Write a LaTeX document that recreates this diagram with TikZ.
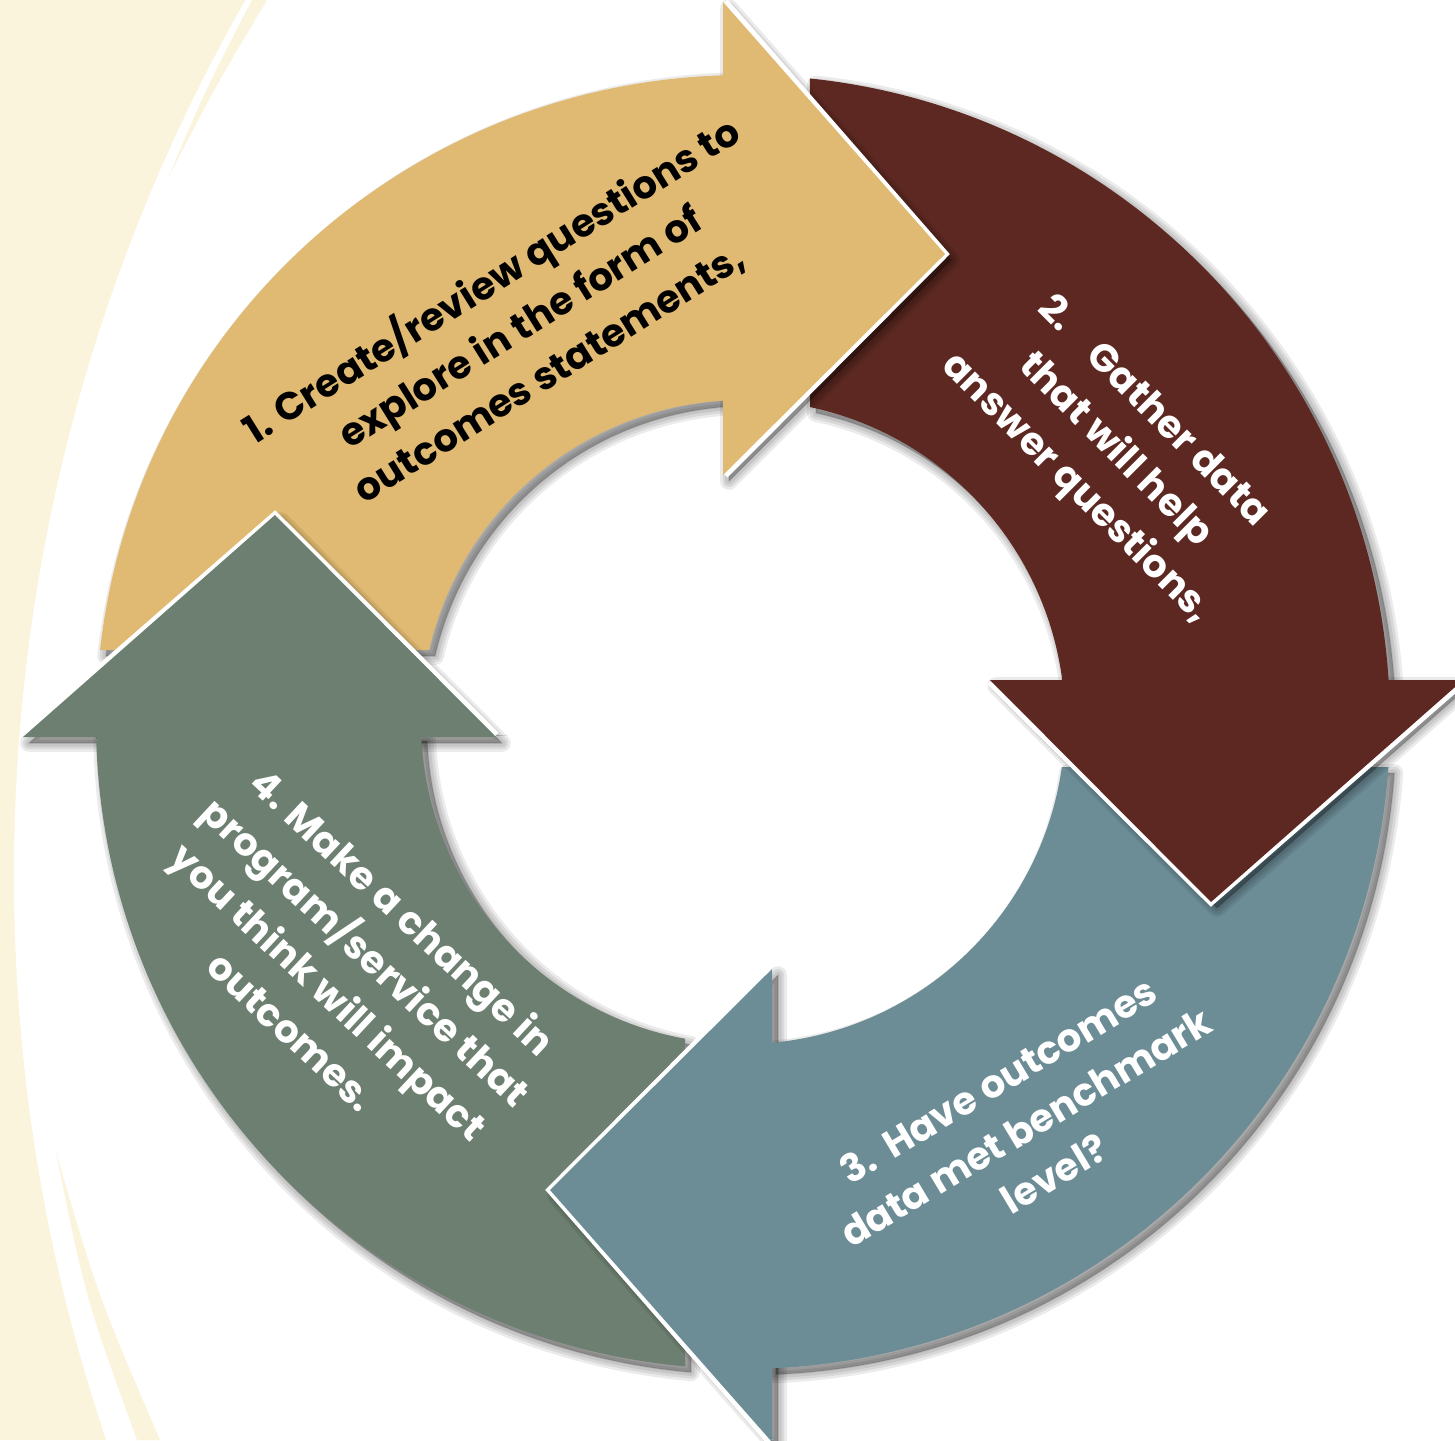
\documentclass[tikz,border=0pt]{standalone}
\usepackage{fontspec}
\setmainfont{Poppins}
\usetikzlibrary{calc}

\definecolor{cream}{RGB}{250,244,220}
\definecolor{cyellow}{RGB}{224,186,114}
\definecolor{cbrown}{RGB}{92,40,33}
\definecolor{cblue}{RGB}{108,140,150}
\definecolor{cgreen}{RGB}{108,127,112}

% ring piece of one arrow, drawn for the arrow at the top
% #1 = back offset of the head base, #2 = height of the tail line
\newcommand{\bodypath}[2]{({180-asin(#2/6.47)}:6.47)
  arc[start angle={180-asin(#2/6.47)}, end angle={90+asin(#1/6.47)}, radius=6.47]
  -- ({90+asin(#1/3.22)}:3.22)
  arc[start angle={90+asin(#1/3.22)}, end angle={180-asin(#2/3.22)}, radius=3.22] -- cycle}
\newcommand{\headpath}[1]{({-#1-0.02},7.2) -- ({2.2-#1},4.68) -- ({-#1-0.02},2.47) -- cycle}

\begin{document}
\begin{tikzpicture}[
		shade/.style={black, opacity=0.08, line join=round},
		local/.style={shift={(c)}, rotate=#1},
		shadowed/.style={reset cm, shift={(c)}, xshift=0.6mm, yshift=-0.6mm, rotate=#1},
		lbl/.style={align=center, inner sep=0pt, text=white,
			font=\bfseries\fontsize{11}{15.5}\selectfont}]

	\useasboundingbox (0,0) rectangle (14.55,-14.40);

	% background
	\fill[cream] (0,0) rectangle (14.55,-14.40);
	\begin{scope}
		\clip (0,0) rectangle (14.55,-14.40);
		\fill[white] (17.81,-8.75) circle (17.67);
		\fill[cream] (1.68,-1.78) .. controls (2.06,-0.89) .. (2.52,0)
			-- (2.67,0) .. controls (2.14,-0.89) .. (1.68,-1.78);
		\fill[cream] (0.56,-11.52) .. controls (0.85,-12.96) .. (1.37,-14.40)
			-- (1.60,-14.40) .. controls (0.98,-12.96) .. (0.56,-11.52);
	\end{scope}

	\coordinate (c) at (7.43,-7.22);

	% ring pieces
	\foreach \rot/\boff/\toff/\col in {0/0.18/0.72/cyellow, -90/0.40/0.67/cbrown,
			-180/0.27/0.45/cblue, -270/0.13/0.58/cgreen}{
		\foreach \w in {5,3.5,2,0.5}
			\filldraw[shade, line width=\w pt, shadowed=\rot] \bodypath{\boff}{\toff};
		\fill[\col, local=\rot] \bodypath{\boff}{\toff};
	}

	% arrow heads on top of the next tail
	\foreach \rot/\boff/\col in {0/0.18/cyellow, -90/0.40/cbrown,
			-180/0.27/cblue, -270/0.13/cgreen}{
		\begin{scope}[local=\rot]
			\clip (-\boff,-1) rectangle (9,9);
			\foreach \w in {5,3.5,2,0.5}
				\filldraw[shade, line width=\w pt, shadowed=\rot] \headpath{\boff};
		\end{scope}
		\begin{scope}[local=\rot]
			\clip (-3,-1) rectangle (-\boff,9);
			\begin{scope}[even odd rule]
				\clip (-3,-1) rectangle (-\boff,9) (0,0) circle (6.47) (0,0) circle (3.22);
				\foreach \w in {5,3.5,2,0.5}
					\filldraw[shade, line width=\w pt, shadowed=\rot] \headpath{\boff};
			\end{scope}
		\end{scope}
		\draw[white, line width=2pt, local=\rot]
			(-\boff,7.2) -- ({2.2-\boff},4.68) -- (-\boff,2.47);
		\fill[\col, local=\rot] \headpath{\boff};
	}

	\node[lbl, text=black, rotate=32] (q1) at (5.19,-3.25)
		{1. Create/review questions to\\explore in the form of\\outcomes statements,};
	\node[lbl, rotate=-45] (q2) at (11.14,-4.51)
		{2.\hspace{0.9em}Gather data\\that will help\\answer questions,};
	\node[lbl, rotate=31] (q3) at (10.26,-11.27)
		{3.\hspace{0.4em}Have outcomes\\data met benchmark\\level?};
	\node[lbl, rotate=-43] (q4) at (3.48,-9.71)
		{4. Make a change in\\program/service that\\you think will impact\\outcomes.};

\end{tikzpicture}
\end{document}
